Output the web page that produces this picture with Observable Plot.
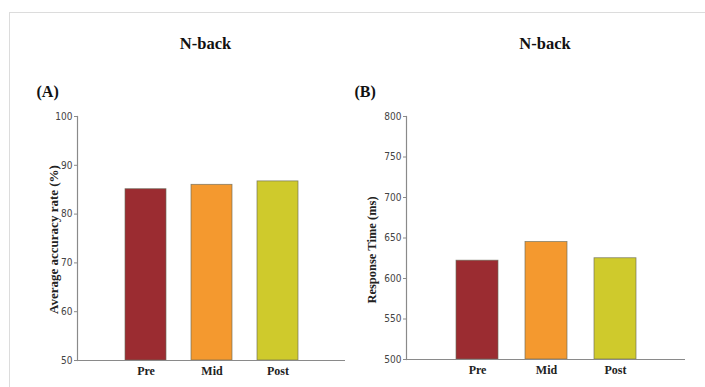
<!DOCTYPE html>
<html>
<head>
<meta charset="utf-8">
<script src="https://cdn.jsdelivr.net/npm/d3@7"></script>
<script src="https://cdn.jsdelivr.net/npm/@observablehq/plot@0.6"></script>
<style>
  html, body { margin: 0; padding: 0; background: #fff; }
  #wrap { position: relative; width: 705px; height: 387px; overflow: hidden; background: #fff; }
  #wrap .bt { position: absolute; left: 9px; top: 12px; width: 696px; height: 1px; background: #dcdcdc; }
  #wrap .bl { position: absolute; left: 9px; top: 12px; width: 1px; height: 375px; background: #dcdcdc; }
  #wrap .panel { position: absolute; top: 0; }
</style>
</head>
<body>
<div id="wrap"><div class="bt"></div><div class="bl"></div></div>
<script>
const phases = ["Pre", "Mid", "Post"];
const accuracy = [85.1, 86.0, 86.7];
const responseTime = [622, 645, 625];
const barColors = ["#9b2c31", "#f4992f", "#cfca2c"];
const accTicks = [50, 60, 70, 80, 90, 100];
const rtTicks = [500, 550, 600, 650, 700, 750, 800];
const titleText = "N-back";
const panelLabels = ["(A)", "(B)"];
const yLabels = ["Average accuracy rate (%)", "Response Time (ms)"];

const serif = "'Liberation Serif', 'Times New Roman', serif";
const narrow = "'DejaVu Sans Condensed', 'Liberation Sans Narrow', sans-serif";

function panel(opts) {
  const rows = phases.map((p, i) => ({phase: p, value: opts.values[i]}));
  const base = opts.ticks[0];
  return Plot.plot({
    width: opts.width,
    height: 387,
    marginLeft: opts.ml,
    marginRight: opts.mr,
    marginTop: 116,
    marginBottom: opts.mb,
    style: {background: "transparent", overflow: "visible"},
    x: {domain: phases, paddingInner: opts.pi, paddingOuter: opts.po},
    y: {domain: [opts.ticks[0], opts.ticks[opts.ticks.length - 1]]},
    color: {domain: phases, range: barColors},
    marks: [
      Plot.rectY(rows, {x: "phase", y1: base, y2: "value", fill: "phase", stroke: "#6b6b5a", strokeWidth: 0.8, strokeOpacity: 0.8}),
      Plot.ruleY([base], {stroke: "#8a8a8a", strokeWidth: 1.2}),
      Plot.frame({anchor: "left", stroke: "#8a8a8a", strokeWidth: 1.2}),
      Plot.axisY({ticks: opts.ticks, tickSize: 3, tickPadding: 2, label: null, stroke: "#8a8a8a",
        fontFamily: narrow, fontSize: 10, fill: "#444"}),
      Plot.axisX({tickSize: 0, tickPadding: 6, label: null, fontFamily: serif, fontSize: 12, fontWeight: "bold", fill: "#222"}),
      Plot.text([titleText], {frameAnchor: "top", dx: opts.tdx, dy: -79, fontFamily: serif, fontSize: 16.5, fontWeight: "bold", fill: "#111"}),
      Plot.text([opts.tag], {frameAnchor: "top-left", dx: opts.tagdx, dy: -25, textAnchor: "start", lineAnchor: "middle", fontFamily: serif, fontSize: 16, fontWeight: "bold", fill: "#111"}),
      Plot.text([opts.ylabel], {frameAnchor: "left", dx: -opts.lo, dy: opts.ldy, rotate: -90, textAnchor: "middle", lineAnchor: "middle", fontFamily: serif, fontSize: opts.lfs, fontWeight: "bold", fill: "#222"})
    ]
  });
}

const wrap = document.getElementById("wrap");
const a = panel({values: accuracy, ticks: accTicks, width: 345, ml: 77, mr: 0, mb: 27, pi: 0.383, po: 0.707,
  tdx: -6, tag: panelLabels[0], tagdx: -41, ylabel: yLabels[0], lo: 24, ldy: 1, lfs: 13});
a.classList.add("panel"); a.style.left = "0px";
wrap.appendChild(a);
const b = panel({values: responseTime, ticks: rtTicks, width: 360, ml: 61, mr: 20, mb: 28, pi: 0.396, po: 0.705,
  tdx: -1, tag: panelLabels[1], tagdx: -52, ylabel: yLabels[1], lo: 35, ldy: 12, lfs: 12.5});
b.classList.add("panel"); b.style.left = "345px";
wrap.appendChild(b);
</script>
</body>
</html>
